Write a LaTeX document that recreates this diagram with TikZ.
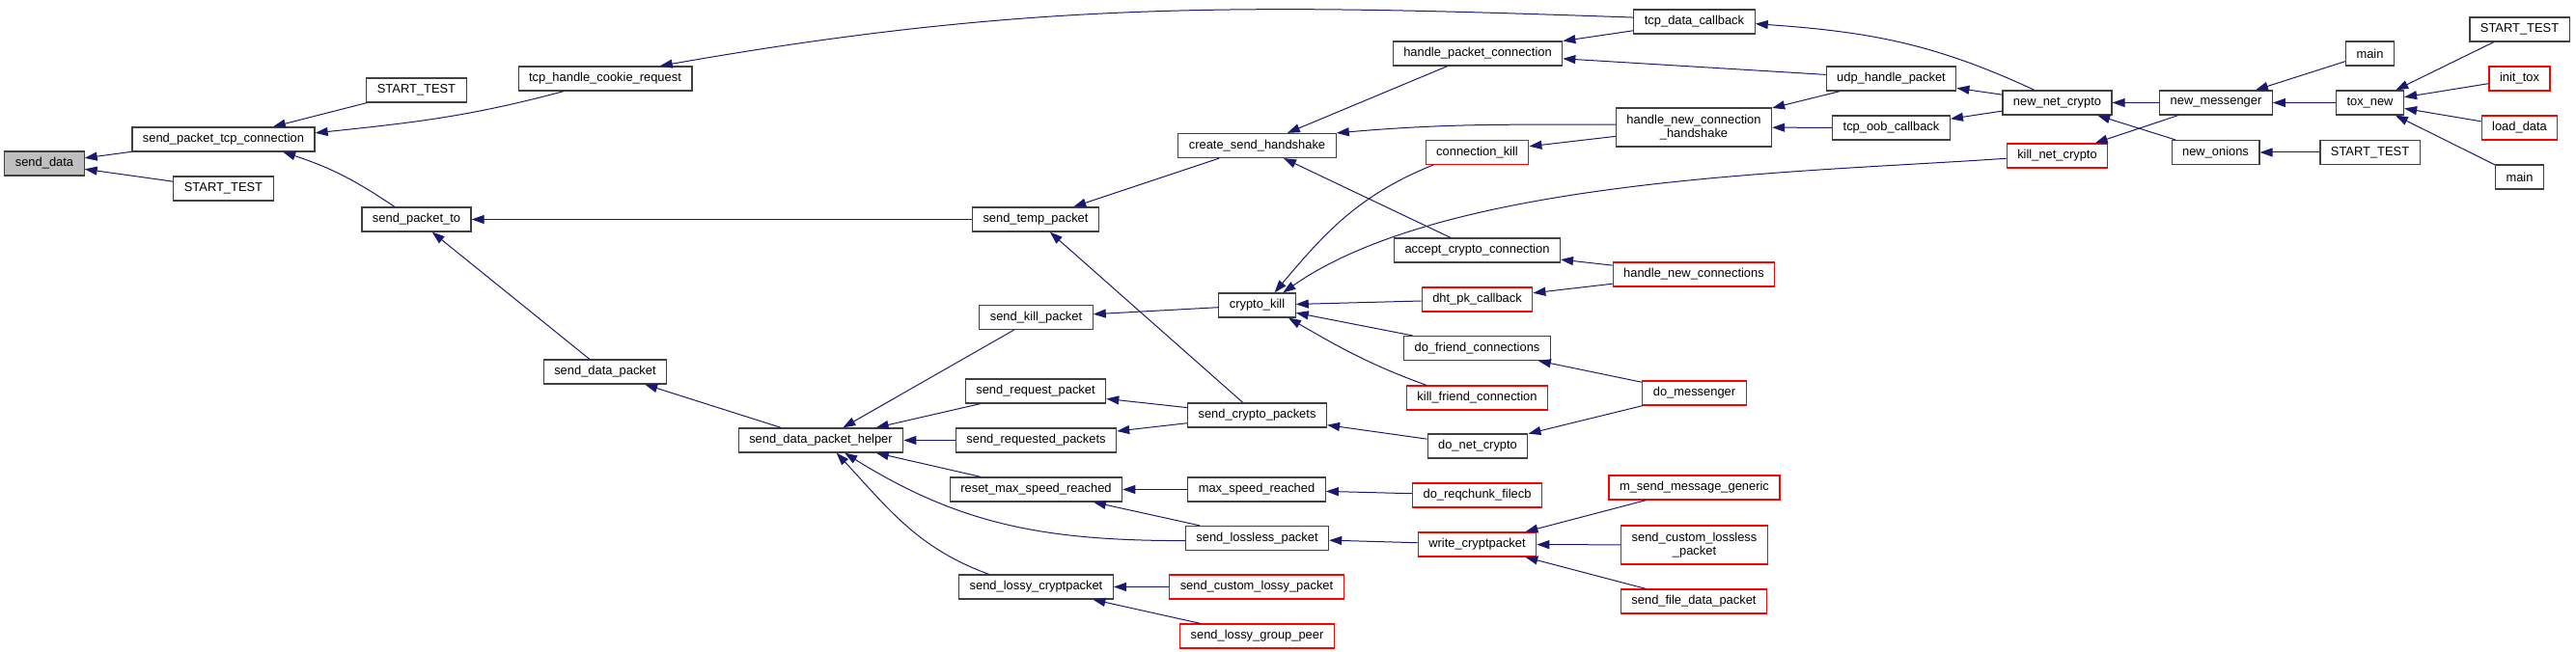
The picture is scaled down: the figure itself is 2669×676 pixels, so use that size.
\documentclass[tikz,border=0pt]{standalone}
\usepackage{fontspec}
\setmainfont{Liberation Sans}
\usetikzlibrary{arrows.meta}
\definecolor{edgeblue}{RGB}{25,25,112}
\definecolor{boxline}{RGB}{64,64,64}
\definecolor{boxred}{RGB}{255,0,0}
\definecolor{boxgray}{RGB}{191,191,191}
\begin{document}
\begin{tikzpicture}[x=1pt,y=1pt,
    fn/.style={draw=boxline, line width=1.2pt, fill=white, minimum height=25pt,
      inner xsep=11pt, inner ysep=3pt, font=\fontsize{12.9}{14.5}\selectfont},
    redfn/.style={fn, draw=boxred},
    thisfn/.style={fn, fill=boxgray},
    twoline/.style={align=center, minimum height=40pt},
    call/.style={draw=edgeblue, line width=1pt, {Triangle[length=13pt,width=9pt]}-}]
    \useasboundingbox (0,0) rectangle (2669,676);
    \node[thisfn] (sd) at (46,506.5) {send\_data};
    \node[fn] (sptc) at (231.5,531.5) {send\_packet\_tcp\_connection};
    \node[fn] (st1) at (231.5,480.5) {START\_TEST};
    \node[fn] (st2) at (431.5,582.5) {START\_TEST};
    \node[fn] (spto) at (431.5,448.5) {send\_packet\_to};
    \node[fn] (cookie) at (627,594.5) {tcp\_handle\_cookie\_request};
    \node[fn] (sdp) at (627,290.5) {send\_data\_packet};
    \node[fn] (helper) at (850.5,219.5) {send\_data\_packet\_helper};
    \node[fn] (stp) at (1073,448.5) {send\_temp\_packet};
    \node[fn] (skp) at (1073.5,347) {send\_kill\_packet};
    \node[fn] (srp) at (1073,270.5) {send\_request\_packet};
    \node[fn] (srpk) at (1073.5,219.5) {send\_requested\_packets};
    \node[fn] (rmsr) at (1073.5,168.5) {reset\_max\_speed\_reached};
    \node[fn] (slc) at (1073.5,67.5) {send\_lossy\_cryptpacket};
    \node[fn] (csh) at (1302.5,525) {create\_send\_handshake};
    \node[fn] (ck) at (1302.5,359.5) {crypto\_kill};
    \node[fn] (scp) at (1302.5,245.5) {send\_crypto\_packets};
    \node[fn] (msr) at (1302,168.5) {max\_speed\_reached};
    \node[fn] (slp) at (1302.5,118) {send\_lossless\_packet};
    \node[redfn] (sclp) at (1302,67.5) {send\_custom\_lossy\_packet};
    \node[redfn] (slgp) at (1302.5,16.5) {send\_lossy\_group\_peer};
    \node[fn] (hpc) at (1531,620.5) {handle\_packet\_connection};
    \node[redfn] (connkill) at (1530.5,518) {connection\_kill};
    \node[fn] (acc) at (1530.5,416.5) {accept\_crypto\_connection};
    \node[redfn] (dpc) at (1530.5,365.5) {dht\_pk\_callback};
    \node[fn] (dfc) at (1530.5,315) {do\_friend\_connections};
    \node[redfn] (kfc) at (1530.5,263.5) {kill\_friend\_connection};
    \node[fn] (dnc) at (1531,213.5) {do\_net\_crypto};
    \node[redfn] (drf) at (1530.5,162.5) {do\_reqchunk\_filecb};
    \node[redfn] (wc) at (1530.5,111.5) {write\_cryptpacket};
    \node[fn] (tdc) at (1755.5,653.5) {tcp\_data\_callback};
    \node[fn, twoline] (hnch) at (1755,544) {handle\_new\_connection\\\_handshake};
    \node[redfn] (hnc) at (1755,391.5) {handle\_new\_connections};
    \node[redfn] (dm) at (1755.5,268.5) {do\_messenger};
    \node[redfn] (msmg) at (1755.5,170.5) {m\_send\_message\_generic};
    \node[redfn, twoline] (sclsp) at (1755.5,111) {send\_custom\_lossless\\\_packet};
    \node[redfn] (sfdp) at (1755,52.5) {send\_file\_data\_packet};
    \node[fn] (uhp) at (1959.5,594.5) {udp\_handle\_packet};
    \node[fn] (toc) at (1959.5,543.5) {tcp\_oob\_callback};
    \node[fn] (nnc) at (2131.5,569.5) {new\_net\_crypto};
    \node[redfn] (knc) at (2131.5,514.5) {kill\_net\_crypto};
    \node[fn] (nm) at (2296,569.5) {new\_messenger};
    \node[fn] (no) at (2295.5,518) {new\_onions};
    \node[fn] (main1) at (2455.5,620.5) {main};
    \node[fn] (tox) at (2455.5,569.5) {tox\_new};
    \node[fn] (st3) at (2455.5,518) {START\_TEST};
    \node[fn] (st4) at (2610.5,645.5) {START\_TEST};
    \node[redfn] (inittox) at (2610.5,594.5) {init\_tox};
    \node[redfn] (loaddata) at (2610.5,543.5) {load\_data};
    \node[fn] (main2) at (2610.5,492.5) {main};
    % callers point back to the functions they call
    \draw[call] (sd) -- (sptc);
    \draw[call] (sd) -- (st1);
    \draw[call] (sptc) -- (st2);
    \draw[call] (sptc.4) to[out=6,in=195] (cookie.-163);
    \draw[call] (sptc.-12) to[bend left=8] (spto.150);
    \draw[call] (cookie.13) to[out=10,in=178] (tdc.176);
    \draw[call] (spto) -- (stp);
    \draw[call] (spto) -- (sdp);
    \draw[call] (sdp) -- (helper);
    \draw[call] (stp) -- (csh);
    \draw[call] (stp) -- (scp);
    \draw[call] (helper) -- (skp);
    \draw[call] (helper) -- (srp);
    \draw[call] (helper) -- (srpk);
    \draw[call] (helper) -- (rmsr);
    \draw[call] (helper.-28) to[out=-32,in=180] (slp.182);
    \draw[call] (helper.-39) to[out=-47,in=160] (slc.165);
    \draw[call] (srp) -- (scp);
    \draw[call] (srpk) -- (scp);
    \draw[call] (rmsr) -- (msr);
    \draw[call] (rmsr) -- (slp);
    \draw[call] (slc) -- (sclp);
    \draw[call] (slc) -- (slgp);
    \draw[call] (skp) -- (ck);
    \draw[call] (csh) -- (hpc);
    \draw[call] (csh.north east) to[out=5,in=180] (hnch.178);
    \draw[call] (csh) -- (acc);
    \draw[call] (ck.36) to[out=50,in=202] (connkill.-164);
    \draw[call] (ck.26) to[out=35,in=184,looseness=0.7] (knc.183);
    \draw[call] (ck) -- (dpc);
    \draw[call] (ck) -- (dfc);
    \draw[call] (ck.-22) to[out=-30,in=160] (kfc.166);
    \draw[call] (scp) -- (dnc);
    \draw[call] (msr) -- (drf);
    \draw[call] (slp) -- (wc);
    \draw[call] (hpc) -- (tdc);
    \draw[call] (hpc) -- (uhp);
    \draw[call] (hnch) -- (uhp);
    \draw[call] (hnch) -- (toc);
    \draw[call] (connkill) -- (hnch);
    \draw[call] (acc) -- (hnc);
    \draw[call] (dpc) -- (hnc);
    \draw[call] (dfc) -- (dm);
    \draw[call] (dnc) -- (dm);
    \draw[call] (wc) -- (msmg);
    \draw[call] (wc) -- (sclsp);
    \draw[call] (wc) -- (sfdp);
    \draw[call] (tdc.-2) to[out=-4,in=155] (nnc.151);
    \draw[call] (uhp) -- (nnc);
    \draw[call] (toc) -- (nnc);
    \draw[call] (nnc) -- (nm);
    \draw[call] (nnc) -- (no);
    \draw[call] (knc) -- (nm);
    \draw[call] (nm) -- (main1);
    \draw[call] (nm) -- (tox);
    \draw[call] (no) -- (st3);
    \draw[call] (tox) -- (st4);
    \draw[call] (tox) -- (inittox);
    \draw[call] (tox) -- (loaddata);
    \draw[call] (tox) -- (main2);
\end{tikzpicture}
\end{document}
